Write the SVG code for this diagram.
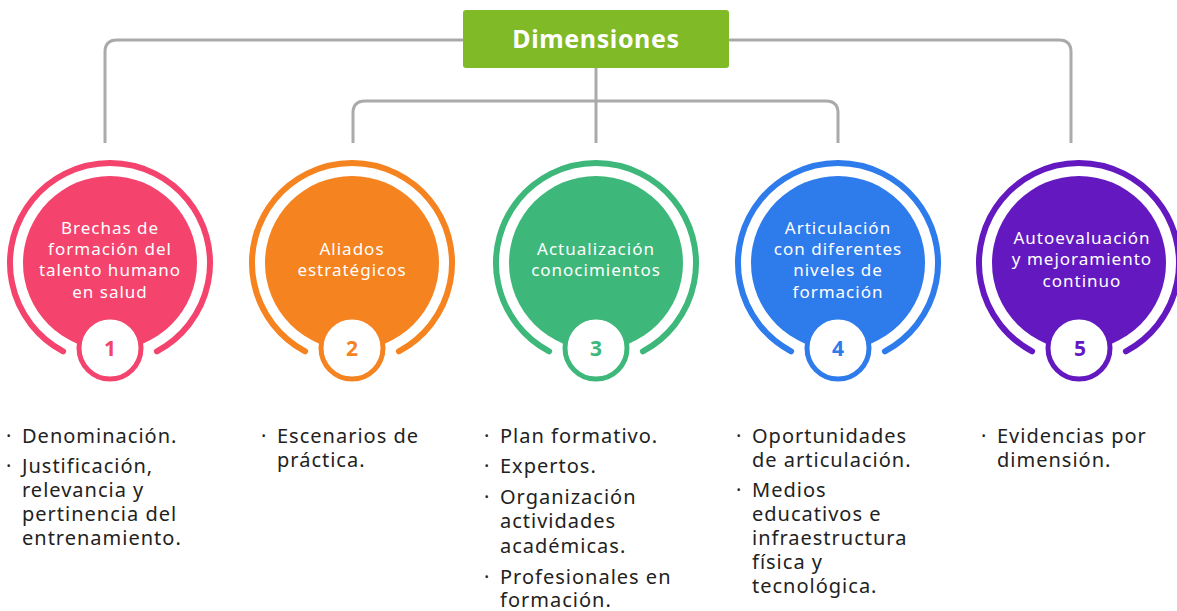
<svg xmlns="http://www.w3.org/2000/svg" width="1177" height="611" viewBox="0 0 1177 611">
<style>
.conn{fill:none;stroke:#aaaaaa;stroke-width:3}
.ring{fill:none;stroke-width:6;stroke-linecap:round}
.ct{font-family:"Noto Sans","Open Sans",sans-serif;font-size:17px;letter-spacing:1px;fill:#ffffff;text-anchor:middle}
.num{font-family:"Noto Sans","Open Sans",sans-serif;font-size:21px;font-weight:bold;text-anchor:middle}
.bt{font-family:"Noto Sans","Open Sans",sans-serif;font-size:20px;letter-spacing:1px;fill:#222222}
</style>
<rect width="1177" height="611" fill="#ffffff"/>
<g id="connectors">
<path class="conn" d="M463,40 H117 Q105,40 105,52 V143"/>
<path class="conn" d="M729,40 H1059 Q1071,40 1071,52 V143"/>
<path class="conn" d="M365,101 H826 Q838,101 838,113 V143"/>
<path class="conn" d="M365,101 Q353,101 353,113 V143"/>
<path class="conn" d="M596,68 V143"/>
</g>
<g id="root">
<rect x="463" y="10" width="266" height="58" rx="3" fill="#80BA27"/>
<text x="596" y="48" font-family="Noto Sans,Open Sans,sans-serif" font-size="25" font-weight="bold" letter-spacing="0.6" fill="#ffffff" text-anchor="middle">Dimensiones</text>
</g>
<g id="node1">
<path class="ring" stroke="#F4436C" d="M63.1,351.3 A100,100 0 1 1 156.9,351.3"/>
<circle cx="110" cy="263" r="87" fill="#F4436C"/>
<circle cx="110" cy="348" r="31" fill="#ffffff" stroke="#F4436C" stroke-width="5"/>
<text class="num" x="110" y="356" fill="#F4436C">1</text>
<text class="ct" x="110" y="234">Brechas de</text>
<text class="ct" x="110" y="255">formación del</text>
<text class="ct" x="110" y="276">talento humano</text>
<text class="ct" x="110" y="298">en salud</text>
</g>
<g id="node2">
<path class="ring" stroke="#F5831F" d="M305.1,351.3 A100,100 0 1 1 398.9,351.3"/>
<circle cx="352" cy="263" r="87" fill="#F5831F"/>
<circle cx="352" cy="348" r="31" fill="#ffffff" stroke="#F5831F" stroke-width="5"/>
<text class="num" x="352" y="356" fill="#F5831F">2</text>
<text class="ct" x="352" y="255">Aliados</text>
<text class="ct" x="352" y="276">estratégicos</text>
</g>
<g id="node3">
<path class="ring" stroke="#3DB87A" d="M549.1,351.3 A100,100 0 1 1 642.9,351.3"/>
<circle cx="596" cy="263" r="87" fill="#3DB87A"/>
<circle cx="596" cy="348" r="31" fill="#ffffff" stroke="#3DB87A" stroke-width="5"/>
<text class="num" x="596" y="356" fill="#3DB87A">3</text>
<text class="ct" x="596" y="255">Actualización</text>
<text class="ct" x="596" y="276">conocimientos</text>
</g>
<g id="node4">
<path class="ring" stroke="#2E7BEB" d="M791.1,351.3 A100,100 0 1 1 884.9,351.3"/>
<circle cx="838" cy="263" r="87" fill="#2E7BEB"/>
<circle cx="838" cy="348" r="31" fill="#ffffff" stroke="#2E7BEB" stroke-width="5"/>
<text class="num" x="838" y="356" fill="#2E7BEB">4</text>
<text class="ct" x="838" y="234">Articulación</text>
<text class="ct" x="838" y="255">con diferentes</text>
<text class="ct" x="838" y="276">niveles de</text>
<text class="ct" x="838" y="298">formación</text>
</g>
<g id="node5">
<path class="ring" stroke="#6419C0" d="M1032.1,351.3 A100,100 0 1 1 1125.9,351.3"/>
<circle cx="1079" cy="263" r="87" fill="#6419C0"/>
<circle cx="1079" cy="348" r="31" fill="#ffffff" stroke="#6419C0" stroke-width="5"/>
<text class="num" x="1080" y="356" fill="#6419C0">5</text>
<text class="ct" x="1082" y="244">Autoevaluación</text>
<text class="ct" x="1082" y="265">y mejoramiento</text>
<text class="ct" x="1082" y="287">continuo</text>
</g>
<g id="list1">
<text class="bt" x="6" y="443">·</text><text class="bt" x="22" y="443">Denominación.</text>
<text class="bt" x="6" y="473">·</text><text class="bt" x="22" y="473">Justificación,</text>
<text class="bt" x="22" y="497">relevancia y</text>
<text class="bt" x="22" y="521">pertinencia del</text>
<text class="bt" x="22" y="545">entrenamiento.</text>
</g>
<g id="list2">
<text class="bt" x="261" y="443">·</text><text class="bt" x="277" y="443">Escenarios de</text>
<text class="bt" x="277" y="467">práctica.</text>
</g>
<g id="list3">
<text class="bt" x="484" y="443">·</text><text class="bt" x="500" y="443">Plan formativo.</text>
<text class="bt" x="484" y="473">·</text><text class="bt" x="500" y="473">Expertos.</text>
<text class="bt" x="484" y="504">·</text><text class="bt" x="500" y="504">Organización</text>
<text class="bt" x="500" y="528">actividades</text>
<text class="bt" x="500" y="553">académicas.</text>
<text class="bt" x="484" y="584">·</text><text class="bt" x="500" y="584">Profesionales en</text>
<text class="bt" x="500" y="607">formación.</text>
</g>
<g id="list4">
<text class="bt" x="736" y="443">·</text><text class="bt" x="752" y="443">Oportunidades</text>
<text class="bt" x="752" y="467">de articulación.</text>
<text class="bt" x="736" y="497">·</text><text class="bt" x="752" y="497">Medios</text>
<text class="bt" x="752" y="521">educativos e</text>
<text class="bt" x="752" y="545">infraestructura</text>
<text class="bt" x="752" y="569">física y</text>
<text class="bt" x="752" y="593">tecnológica.</text>
</g>
<g id="list5">
<text class="bt" x="981" y="443">·</text><text class="bt" x="997" y="443">Evidencias por</text>
<text class="bt" x="997" y="467">dimensión.</text>
</g>
</svg>
